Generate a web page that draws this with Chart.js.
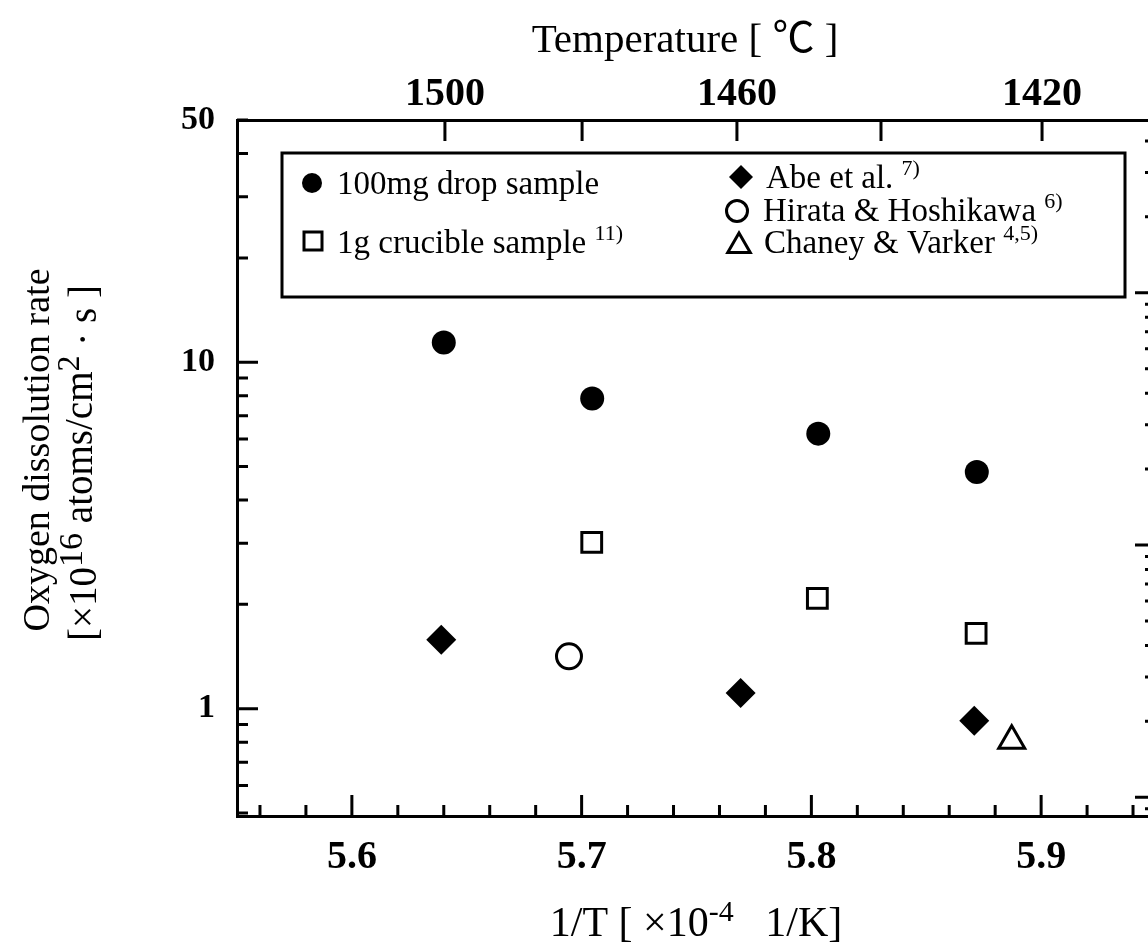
<!DOCTYPE html>
<html lang="en">
<head>
<meta charset="UTF-8">
<title>Oxygen dissolution rate</title>
<script src="https://cdn.jsdelivr.net/npm/chart.js@4"></script>
<style>
  html, body { margin: 0; padding: 0; background: #fff; overflow: hidden; }
  #wrap { width: 1160px; height: 945px; overflow: hidden; }
</style>
</head>
<body>
<div id="wrap"><canvas id="rateChart" width="1160" height="945"></canvas></div>
<script>
// x: 1/T [1e-4 1/K], y: dissolution rate [1e16 atoms/cm2 s]
const dropX = [5.6400, 5.7046, 5.8030, 5.8720];
const dropY = [11.4, 7.86, 6.22, 4.82];
const crucibleX = [5.7044, 5.8026, 5.8717];
const crucibleY = [3.02, 2.08, 1.65];
const abeX = [5.6389, 5.7692, 5.8709];
const abeY = [1.58, 1.11, 0.923];
const hirataX = [5.6945];
const hirataY = [1.416];
const chaneyX = [5.8872];
const chaneyY = [0.808];

const xTicks = [5.6, 5.7, 5.8, 5.9];
const yTicks = [1, 10, 50];
const tempValues = [1500, 1480, 1460, 1440, 1420];
const tempTickX = [5.6405, 5.7002, 5.7676, 5.8303, 5.9004];

const SERIF = '"Liberation Serif", "Times New Roman", serif';
const CJK = '"Noto Sans CJK JP", sans-serif';

function pts(xs, ys) {
    return xs.map((x, i) => ({ x: x, y: ys[i] }));
}

// inward tick marks on all four sides
function tickMarks(ctx, chart) {
    const a = chart.chartArea;
    const sx = chart.scales.x, sx2 = chart.scales.x2, sy = chart.scales.y, sy2 = chart.scales.y2;
    ctx.save();
    ctx.strokeStyle = '#000';
    ctx.lineWidth = 3;
    ctx.beginPath();
    for (let v = 5.56; v < 5.95; v += 0.02) {
        const major = Math.abs(v * 10 - Math.round(v * 10)) < 1e-6;
        const px = sx.getPixelForValue(v);
        ctx.moveTo(px, a.bottom);
        ctx.lineTo(px, a.bottom - (major ? 21 : 11));
    }
    tempTickX.forEach(v => {
        const px = sx2.getPixelForValue(v);
        ctx.moveTo(px, a.top);
        ctx.lineTo(px, a.top + 21);
    });
    const logTicks = (scale, x0, dir) => {
        for (let k = -2; k <= 2; k++) {
            for (let m = 1; m <= 9; m++) {
                const v = m * Math.pow(10, k);
                if (v < scale.min * 0.999 || v > scale.max * 1.001) continue;
                const py = scale.getPixelForValue(v);
                ctx.moveTo(x0, py);
                ctx.lineTo(x0 + dir * (m === 1 ? 21 : 11), py);
            }
        }
    };
    logTicks(sy, a.left, 1);
    logTicks(sy2, a.right, -1);
    ctx.stroke();
    ctx.restore();
}

// text runs: each part may carry its own size, font and raise
function richText(ctx, parts, x, y, size, align) {
    let total = 0;
    parts.forEach(p => {
        p.size = p.size || (p.sup ? Math.round(size * 0.68) : size);
        ctx.font = p.size + 'px ' + (p.family || SERIF);
        p.w = ctx.measureText(p.t).width;
        total += p.w;
    });
    let cx = align === 'center' ? x - total / 2 : x;
    ctx.textBaseline = 'alphabetic';
    ctx.textAlign = 'left';
    parts.forEach(p => {
        ctx.font = p.size + 'px ' + (p.family || SERIF);
        const rise = p.rise !== undefined ? p.rise : (p.sup ? size * 0.38 : 0);
        ctx.fillText(p.t, cx, y - rise);
        cx += p.w;
    });
}

function marker(ctx, style, x, y, r, filled) {
    ctx.save();
    ctx.fillStyle = filled ? '#000' : '#fff';
    ctx.strokeStyle = '#000';
    ctx.lineWidth = 3;
    ctx.beginPath();
    if (style === 'circle') {
        ctx.arc(x, y, r, 0, Math.PI * 2);
    } else if (style === 'rect') {
        ctx.rect(x - r, y - r, 2 * r, 2 * r);
    } else if (style === 'rectRot') {
        ctx.moveTo(x, y - r); ctx.lineTo(x + r, y); ctx.lineTo(x, y + r); ctx.lineTo(x - r, y);
        ctx.closePath();
    } else if (style === 'triangle') {
        ctx.moveTo(x, y - r);
        ctx.lineTo(x + r * 0.866, y + r / 2);
        ctx.lineTo(x - r * 0.866, y + r / 2);
        ctx.closePath();
    }
    ctx.fill();
    if (!filled) ctx.stroke();
    ctx.restore();
}

const decorations = {
    id: 'decorations',
    afterDraw(chart) {
        const ctx = chart.ctx;
        tickMarks(ctx, chart);

        ctx.save();
        ctx.fillStyle = '#000';

        // legend box
        ctx.strokeStyle = '#000';
        ctx.lineWidth = 3;
        ctx.strokeRect(282, 153, 843, 144);
        marker(ctx, 'circle', 312, 183, 10, true);
        richText(ctx, [{ t: '100mg drop sample' }], 337, 194, 33, 'left');
        marker(ctx, 'rect', 313, 241, 9, false);
        richText(ctx, [{ t: '1g crucible sample ' }, { t: '11)', sup: true }], 337, 253, 33, 'left');
        marker(ctx, 'rectRot', 741, 177, 12, true);
        richText(ctx, [{ t: 'Abe et al. ' }, { t: '7)', sup: true }], 766, 188, 33, 'left');
        marker(ctx, 'circle', 737, 211, 10.5, false);
        richText(ctx, [{ t: 'Hirata & Hoshikawa ' }, { t: '6)', sup: true }], 763, 221, 33, 'left');
        marker(ctx, 'triangle', 739, 246, 13, false);
        richText(ctx, [{ t: 'Chaney & Varker ' }, { t: '4,5)', sup: true }], 764, 253, 33, 'left');

        // axis titles
        richText(ctx, [{ t: 'Temperature [ ' }, { t: '℃', family: CJK, size: 42, rise: 0 }, { t: ' ]' }],
                 685, 52, 41, 'center');
        richText(ctx, [{ t: '1/T [ ×10' }, { t: '-4', size: 30, rise: 15 }, { t: '   1/K]' }],
                 696, 936, 42, 'center');

        ctx.save();
        ctx.translate(49, 450);
        ctx.rotate(-Math.PI / 2);
        richText(ctx, [{ t: 'Oxygen dissolution rate' }], 0, 0, 38, 'center');
        ctx.restore();
        ctx.save();
        ctx.translate(96, 463);
        ctx.rotate(-Math.PI / 2);
        richText(ctx, [{ t: '[×10' }, { t: '16', size: 34, rise: 14 }, { t: ' atoms/cm' , rise: 4 },
                       { t: '2', size: 32, rise: 17 }, { t: ' · s ]' }], 0, 0, 39, 'center');
        ctx.restore();
        ctx.restore();
    }
};

const tickFont = size => ({ family: SERIF, size: size, weight: 'bold' });

new Chart(document.getElementById('rateChart'), {
    type: 'scatter',
    data: {
        datasets: [
            { label: '100mg drop sample', data: pts(dropX, dropY), pointStyle: 'circle', pointRadius: 12,
              backgroundColor: '#000', borderColor: '#000', borderWidth: 0 },
            { label: '1g crucible sample', data: pts(crucibleX, crucibleY), pointStyle: 'rect', pointRadius: 14,
              backgroundColor: '#fff', borderColor: '#000', borderWidth: 3 },
            { label: 'Abe et al.', data: pts(abeX, abeY), pointStyle: 'rectRot', pointRadius: 15,
              backgroundColor: '#000', borderColor: '#000', borderWidth: 0 },
            { label: 'Hirata & Hoshikawa', data: pts(hirataX, hirataY), pointStyle: 'circle', pointRadius: 12.5,
              backgroundColor: '#fff', borderColor: '#000', borderWidth: 3 },
            { label: 'Chaney & Varker', data: pts(chaneyX, chaneyY), pointStyle: 'triangle', pointRadius: 15,
              backgroundColor: '#fff', borderColor: '#000', borderWidth: 3 }
        ]
    },
    options: {
        responsive: false,
        devicePixelRatio: 1,
        animation: false,
        layout: { padding: 0, autoPadding: false },
        plugins: { legend: { display: false }, tooltip: { enabled: false } },
        scales: {
            x: {
                type: 'linear', position: 'bottom', min: 5.55, max: 5.95,
                afterBuildTicks: s => { s.ticks = xTicks.map(v => ({ value: v })); },
                afterFit: s => { s.height = 129; },
                ticks: { callback: v => v.toFixed(1), font: tickFont(40), color: '#000', padding: 18,
                         maxRotation: 0, autoSkip: false },
                grid: { display: false, drawTicks: false },
                border: { color: '#000', width: 3 }
            },
            x2: {
                type: 'linear', position: 'top', min: 5.55, max: 5.95,
                afterBuildTicks: s => { s.ticks = tempTickX.map(v => ({ value: v })); },
                afterFit: s => { s.height = 120; },
                ticks: { callback: (v, i) => (i % 2 === 0 ? String(tempValues[i]) : ''), font: tickFont(40),
                         color: '#000', padding: 1, maxRotation: 0, autoSkip: false },
                grid: { display: false, drawTicks: false },
                border: { color: '#000', width: 3 }
            },
            y: {
                type: 'logarithmic', position: 'left', min: 0.49, max: 50,
                afterBuildTicks: s => { s.ticks = yTicks.map(v => ({ value: v })); },
                afterFit: s => { s.width = 237; },
                ticks: { callback: v => String(v), font: tickFont(34), color: '#000', padding: 22, autoSkip: false },
                grid: { display: false, drawTicks: false },
                border: { color: '#000', width: 3 }
            },
            y2: {
                type: 'logarithmic', position: 'right', min: 0.0843, max: 48.4,
                afterFit: s => { s.width = 4; },
                ticks: { display: false },
                grid: { display: false, drawTicks: false },
                border: { color: '#000', width: 3 }
            }
        }
    },
    plugins: [decorations]
});
</script>
</body>
</html>
